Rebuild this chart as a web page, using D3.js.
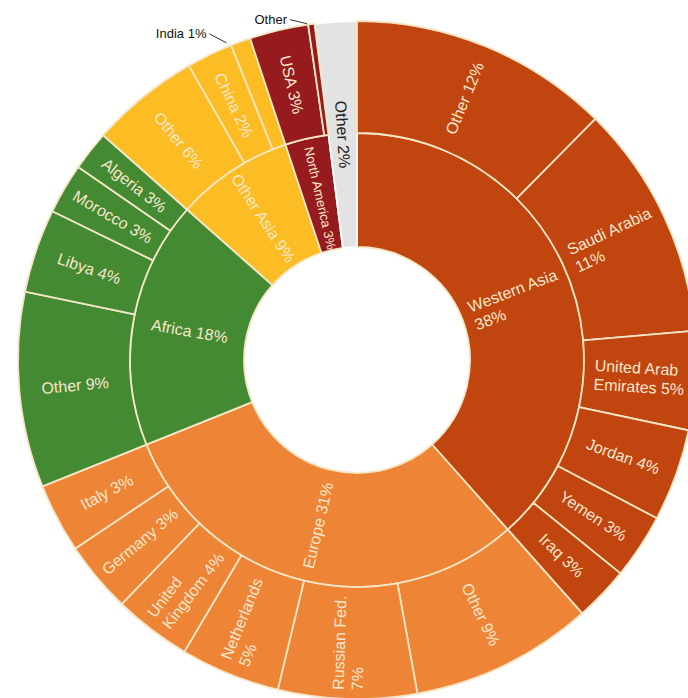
<!DOCTYPE html>
<html>
<head>
<meta charset="utf-8">
<script src="https://cdn.jsdelivr.net/npm/d3@7"></script>
<style>
  html, body { margin: 0; padding: 0; background: #ffffff; }
  svg { display: block; font-family: "Liberation Sans", Arial, sans-serif; }
</style>
</head>
<body>
<svg id="chart" width="688" height="698"></svg>
<script>
// ---- Data (shares of total, %) ----
const regionNames  = ["Western Asia", "Europe", "Africa", "Other Asia", "North America", "Other"];
const regionLabels = ["Western Asia\n38%", "Europe 31%", "Africa 18%", "Other Asia 9%", "North America 3%", "Other 2%"];
const regionColors = ["#c1450e", "#ee8536", "#438a33", "#fbbd23", "#951b1f", "#e3e3e3"];
const otherShare = 2.0;

const westernAsiaNames  = ["Other", "Saudi Arabia", "United Arab Emirates", "Jordan", "Yemen", "Iraq"];
const westernAsiaShares = [12.4, 11.2, 4.7, 4.4, 3.1, 2.6];
const westernAsiaLabels = ["Other 12%", "Saudi Arabia\n11%", "United Arab\nEmirates 5%", "Jordan 4%", "Yemen 3%", "Iraq 3%"];

const europeNames  = ["Other", "Russian Fed.", "Netherlands", "United Kingdom", "Germany", "Italy"];
const europeShares = [8.7, 6.6, 4.75, 3.7, 3.4, 3.3];
const europeLabels = ["Other 9%", "Russian Fed.\n7%", "Netherlands\n5%", "United\nKingdom 4%", "Germany 3%", "Italy 3%"];

const africaNames  = ["Other", "Libya", "Morocco", "Algeria"];
const africaShares = [9.3, 4.0, 2.4, 1.9];
const africaLabels = ["Other 9%", "Libya 4%", "Morocco 3%", "Algeria 3%"];

const otherAsiaNames  = ["Other", "China", "India"];
const otherAsiaShares = [5.2, 2.2, 0.95];
const otherAsiaLabels = ["Other 6%", "China 2%", "India 1%"];

const northAmericaNames  = ["USA", "Other"];
const northAmericaShares = [2.8, 0.3];
const northAmericaLabels = ["USA 3%", "Other"];

// labels drawn outside the ring with a leader line
const outsideLabels = ["India 1%", "Other"];

// ---- Build hierarchy ----
const childSets = [
  [westernAsiaNames, westernAsiaShares, westernAsiaLabels],
  [europeNames, europeShares, europeLabels],
  [africaNames, africaShares, africaLabels],
  [otherAsiaNames, otherAsiaShares, otherAsiaLabels],
  [northAmericaNames, northAmericaShares, northAmericaLabels],
  null
];
const rootData = {
  name: "World",
  children: regionNames.map((n, i) => {
    const node = { name: n, label: regionLabels[i], color: regionColors[i] };
    const cs = childSets[i];
    if (cs) {
      node.children = cs[0].map((cn, j) => ({ name: cn, value: cs[1][j], label: cs[2][j], color: regionColors[i] }));
    } else {
      node.value = otherShare;
    }
    return node;
  })
};

const root = d3.hierarchy(rootData).sum(d => d.value || 0);
d3.partition().size([2 * Math.PI, 3])(root);

const cx = 357, cy = 360;
const radius = d3.scaleLinear().domain([1, 2, 3]).range([113, 227, 339]);

const svg = d3.select("#chart");
const g = svg.append("g").attr("transform", `translate(${cx},${cy})`);

const nodes = root.descendants().filter(d => d.depth > 0);
const rIn = d => radius(d.y0);
const rOut = d => (d.depth === 1 && !d.children) ? radius(3) : radius(d.y1);

const arc = d3.arc()
  .startAngle(d => d.x0)
  .endAngle(d => d.x1)
  .innerRadius(rIn)
  .outerRadius(rOut);

g.selectAll("path.seg")
  .data(nodes)
  .join("path")
  .attr("class", "seg")
  .attr("d", arc)
  .attr("fill", d => d.data.color)
  .attr("stroke", d => d.data.color === "#e3e3e3" ? "#ffffff" : "#f4e5c4")
  .attr("stroke-width", 1.8)
  .attr("stroke-linejoin", "round");

// ---- Labels inside segments ----
const inside = nodes.filter(d => !outsideLabels.includes(d.data.label) || d.depth === 1);
const lh = 19;

inside.forEach(d => {
  const a = (d.x0 + d.x1) / 2;
  const deg = a * 180 / Math.PI;
  let r = (rIn(d) + rOut(d)) / 2;
  const isNA = d.depth === 1 && d.data.name === "North America";
  if (isNA) r -= 4;
  const x = Math.sin(a) * r, y = -Math.cos(a) * r;
  const rot = deg < 180 ? deg - 90 : deg + 90;
  const lines = d.data.label.split("\n");
  const fs = isNA ? 13 : 16;
  const fill = d.data.color === "#e3e3e3" ? "#222222" : "#f8e6cc";
  const t = g.append("text")
    .attr("transform", `translate(${x},${y}) rotate(${rot})`)
    .attr("font-size", fs)
    .attr("fill", fill)
    .attr("text-anchor", "start");
  const spans = lines.map((ln, i) =>
    t.append("tspan")
      .attr("y", (i - (lines.length - 1) / 2) * lh)
      .attr("dy", "0.35em")
      .text(ln));
  const maxW = d3.max(spans, s => s.node().getComputedTextLength());
  spans.forEach(s => s.attr("x", -maxW / 2));
});

// ---- Outside labels with leader lines ----
nodes.filter(d => d.depth === 2 && outsideLabels.includes(d.data.label)).forEach(d => {
  const isIndia = d.data.name === "India";
  const a = isIndia ? d.x0 - 0.01 : d.x0 - 0.003;
  const r = radius(3) + (isIndia ? 4 : 1);
  const ex = Math.sin(a) * r, ey = -Math.cos(a) * r;
  const sx = ex - 17, sy = ey - (isIndia ? 9 : 4);
  g.append("line")
    .attr("x1", sx).attr("y1", sy)
    .attr("x2", ex).attr("y2", ey)
    .attr("stroke", "#333").attr("stroke-width", 1);
  g.append("text")
    .attr("x", sx - 3).attr("y", sy)
    .attr("dy", "0.3em")
    .attr("text-anchor", "end")
    .attr("font-size", 13)
    .attr("fill", "#111")
    .text(d.data.label);
});
</script>
</body>
</html>
